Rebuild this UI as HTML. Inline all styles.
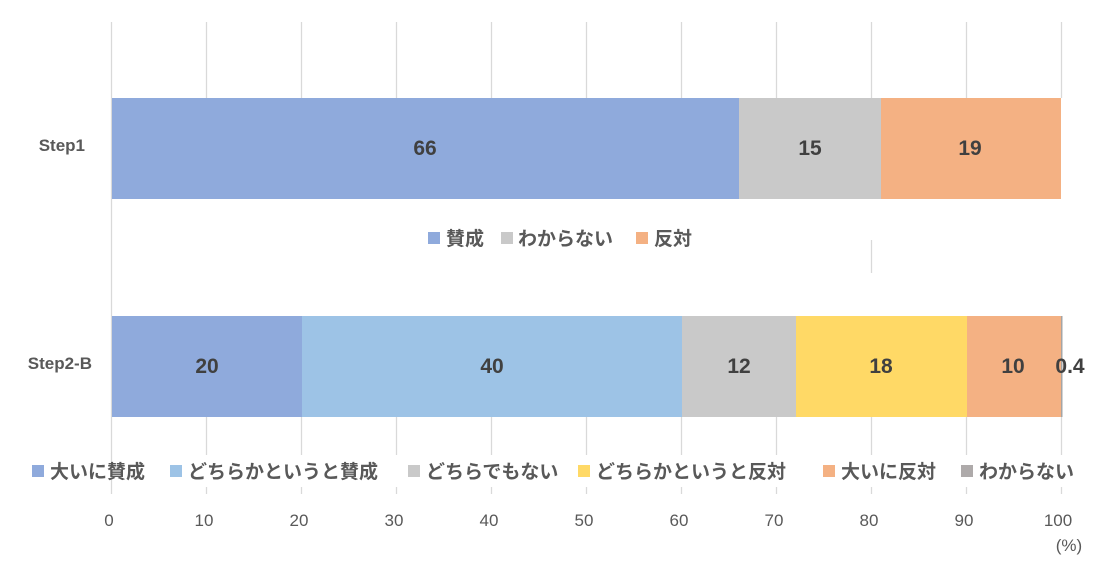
<!DOCTYPE html>
<html><head><meta charset="utf-8"><style>
body{margin:0;background:#fff;}
svg text{font-family:"Liberation Sans","Noto Sans CJK JP",sans-serif;}
</style></head><body>
<svg width="1107" height="574" xmlns="http://www.w3.org/2000/svg">
<g stroke="#d9d9d9" stroke-width="1.3">
<line x1="111.5" y1="22" x2="111.5" y2="494"/>
<line x1="206.5" y1="22" x2="206.5" y2="98"/><line x1="301.5" y1="22" x2="301.5" y2="98"/>
<line x1="396.5" y1="22" x2="396.5" y2="98"/><line x1="491.5" y1="22" x2="491.5" y2="98"/>
<line x1="586.5" y1="22" x2="586.5" y2="98"/><line x1="681.5" y1="22" x2="681.5" y2="98"/>
<line x1="776.5" y1="22" x2="776.5" y2="98"/><line x1="871.5" y1="22" x2="871.5" y2="98"/>
<line x1="966.5" y1="22" x2="966.5" y2="98"/><line x1="1061.5" y1="22" x2="1061.5" y2="98"/>
<line x1="871.5" y1="240" x2="871.5" y2="273"/>
<g>
<line x1="206.5" y1="417" x2="206.5" y2="455"/><line x1="301.5" y1="417" x2="301.5" y2="455"/>
<line x1="396.5" y1="417" x2="396.5" y2="455"/><line x1="491.5" y1="417" x2="491.5" y2="455"/>
<line x1="586.5" y1="417" x2="586.5" y2="455"/><line x1="681.5" y1="417" x2="681.5" y2="455"/>
<line x1="776.5" y1="417" x2="776.5" y2="455"/><line x1="871.5" y1="417" x2="871.5" y2="455"/>
<line x1="966.5" y1="417" x2="966.5" y2="455"/><line x1="1061.5" y1="417" x2="1061.5" y2="455"/>
<line x1="206.5" y1="487" x2="206.5" y2="494"/><line x1="301.5" y1="487" x2="301.5" y2="494"/>
<line x1="396.5" y1="487" x2="396.5" y2="494"/><line x1="491.5" y1="487" x2="491.5" y2="494"/>
<line x1="586.5" y1="487" x2="586.5" y2="494"/><line x1="681.5" y1="487" x2="681.5" y2="494"/>
<line x1="776.5" y1="487" x2="776.5" y2="494"/><line x1="871.5" y1="487" x2="871.5" y2="494"/>
<line x1="966.5" y1="487" x2="966.5" y2="494"/><line x1="1061.5" y1="487" x2="1061.5" y2="494"/>
</g></g>
<rect x="112" y="98" width="627" height="101" fill="#8faadc"/>
<rect x="739" y="98" width="142" height="101" fill="#c9c9c9"/>
<rect x="881" y="98" width="180" height="101" fill="#f4b183"/>
<rect x="112" y="316" width="190" height="101" fill="#8faadc"/>
<rect x="302" y="316" width="380" height="101" fill="#9dc3e6"/>
<rect x="682" y="316" width="114" height="101" fill="#c9c9c9"/>
<rect x="796" y="316" width="171" height="101" fill="#ffd966"/>
<rect x="967" y="316" width="94" height="101" fill="#f4b183"/>
<rect x="1061" y="316" width="1.5" height="101" fill="#a5a5a5"/>
<g font-weight="bold" font-size="21" fill="#404040" text-anchor="middle">
<text x="425" y="155">66</text><text x="810" y="155">15</text><text x="970" y="155">19</text>
<text x="207" y="373">20</text><text x="492" y="373">40</text><text x="739" y="373">12</text>
<text x="881" y="373">18</text><text x="1013" y="373">10</text><text x="1070" y="373">0.4</text>
</g>
<g font-weight="bold" font-size="17" fill="#595959" text-anchor="end">
<text x="85" y="151">Step1</text><text x="92" y="369">Step2-B</text>
</g>
<g font-weight="bold" font-size="19" fill="#595959">
<rect x="428" y="232" width="12" height="12" fill="#8faadc"/><text x="446" y="245">賛成</text>
<rect x="501" y="232" width="12" height="12" fill="#c9c9c9"/><text x="518" y="245">わからない</text>
<rect x="636" y="232" width="12" height="12" fill="#f4b183"/><text x="654" y="245">反対</text>
<rect x="32" y="465" width="12" height="12" fill="#8faadc"/><text x="50" y="478">大いに賛成</text>
<rect x="170" y="465" width="12" height="12" fill="#9dc3e6"/><text x="188" y="478">どちらかというと賛成</text>
<rect x="408" y="465" width="12" height="12" fill="#c9c9c9"/><text x="426" y="478">どちらでもない</text>
<rect x="578" y="465" width="12" height="12" fill="#ffd966"/><text x="596" y="478">どちらかというと反対</text>
<rect x="823" y="465" width="12" height="12" fill="#f4b183"/><text x="841" y="478">大いに反対</text>
<rect x="961" y="465" width="12" height="12" fill="#aeaaaa"/><text x="979" y="478">わからない</text>
</g>
<g font-size="17" fill="#595959" text-anchor="middle">
<text x="109" y="526">0</text><text x="204" y="526">10</text><text x="299" y="526">20</text>
<text x="394" y="526">30</text><text x="489" y="526">40</text><text x="584" y="526">50</text>
<text x="679" y="526">60</text><text x="774" y="526">70</text><text x="869" y="526">80</text>
<text x="964" y="526">90</text><text x="1058" y="526">100</text>
<text x="1069" y="551">(%)</text>
</g>
</svg>
</body></html>
